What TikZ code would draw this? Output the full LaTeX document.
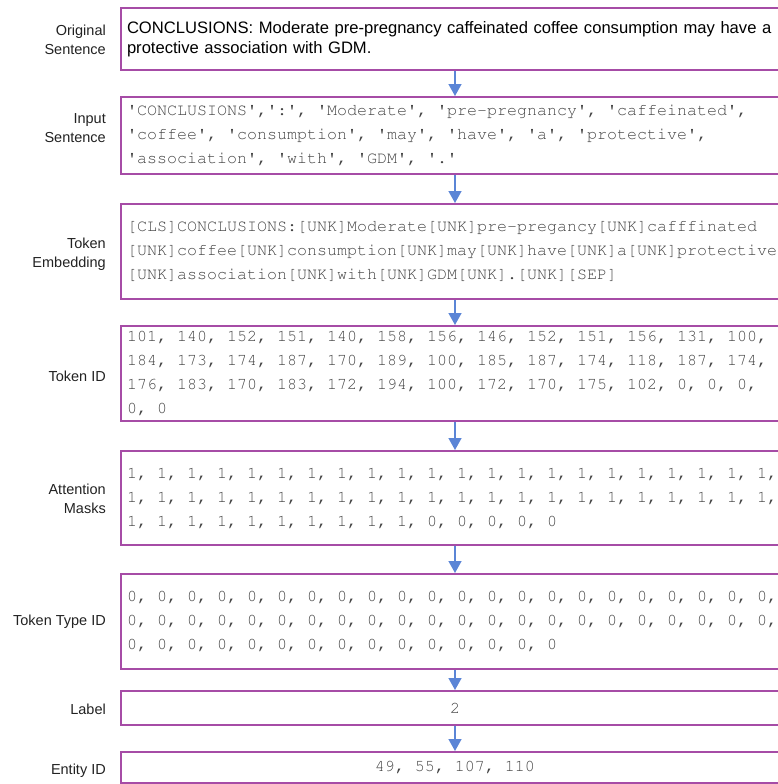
\documentclass[tikz,border=0pt]{standalone}
\usepackage{fontspec}
\setmainfont{Liberation Sans}
\usetikzlibrary{arrows.meta}

\definecolor{boxpurple}{RGB}{166,76,166}
\definecolor{flowblue}{RGB}{91,133,214}
\definecolor{codegrey}{RGB}{68,68,68}
\definecolor{labelgrey}{RGB}{34,34,34}

\newcommand\courierfont{\fontencoding{T1}\fontfamily{pcr}\selectfont}
\newcommand\qt{\textquotesingle}

\begin{document}
\begin{tikzpicture}[x=1pt,y=-1pt,
    field/.style={draw=boxpurple,line width=2pt,minimum width=668pt,inner xsep=6pt,inner ysep=0pt,text width=656pt,align=flush left},
    codetext/.style={font=\courierfont\fontsize{16.67}{24}\selectfont,text=codegrey},
    rowname/.style={anchor=east,inner sep=0pt,align=right,text=labelgrey,font=\fontsize{14.5}{19.5}\selectfont},
    flow/.style={draw=flowblue,line width=1.5pt,-{Triangle[width=13pt,length=12pt]}}]
    \useasboundingbox (0,0) rectangle (778,784);
    \clip (0,0) rectangle (778,784);

    % Beschriftung links
    \foreach \n/\y/\txt in {1/40/{Original\\Sentence},2/128/{Input\\Sentence},3/254/{Token\\Embedding},4/376/{Token ID},
                            5/499/{Attention\\Masks},6/622/{Token Type ID},7/709/{Label},8/771/{Entity ID}} {
        \node[rowname] (row\n) at (106,\y) {\txt};
    }

    % Kaesten
    \node[field,align=left,minimum height=62pt,font=\fontsize{16.6}{20.5}\selectfont] (orig) at (455,39)
        {\mbox{CONCLUSIONS: Moderate pre-pregnancy caffeinated coffee consumption may have a}\\
         \mbox{protective association with GDM.}};
    \node[field,codetext,minimum height=77pt] (input) at (455,135.5)
        {\mbox{\qt{}CONCLUSIONS\qt{},\qt{}:\qt{}, \qt{}Moderate\qt{}, \qt{}pre-pregnancy\qt{}, \qt{}caffeinated\qt{},}\\
         \mbox{\qt{}coffee\qt{}, \qt{}consumption\qt{}, \qt{}may\qt{}, \qt{}have\qt{}, \qt{}a\qt{}, \qt{}protective\qt{},}\\
         \mbox{\qt{}association\qt{}, \qt{}with\qt{}, \qt{}GDM\qt{}, \qt{}.\qt{}}};
    \node[field,codetext,minimum height=95pt] (embed) at (455,251.5)
        {\mbox{[CLS]CONCLUSIONS:[UNK]Moderate[UNK]pre-pregancy[UNK]cafffinated}\\
         \mbox{[UNK]coffee[UNK]consumption[UNK]may[UNK]have[UNK]a[UNK]protective}\\
         \mbox{[UNK]association[UNK]with[UNK]GDM[UNK].[UNK][SEP]}};
    \node[field,codetext,minimum height=95pt] (tokid) at (455,373.5)
        {\mbox{101, 140, 152, 151, 140, 158, 156, 146, 152, 151, 156, 131, 100,}\\
         \mbox{184, 173, 174, 187, 170, 189, 100, 185, 187, 174, 118, 187, 174,}\\
         \mbox{176, 183, 170, 183, 172, 194, 100, 172, 170, 175, 102, 0, 0, 0,}\\
         \mbox{0, 0}};
    \node[field,codetext,minimum height=94pt] (mask) at (455,498)
        {\mbox{1, 1, 1, 1, 1, 1, 1, 1, 1, 1, 1, 1, 1, 1, 1, 1, 1, 1, 1, 1, 1, 1, 1, 1,}\\
         \mbox{1, 1, 1, 1, 1, 1, 1, 1, 1, 1, 1, 1, 1, 1, 1, 1, 1, 1, 1, 1, 1, 1, 1, 1,}\\
         \mbox{1, 1, 1, 1, 1, 1, 1, 1, 1, 1, 0, 0, 0, 0, 0}};
    \node[field,codetext,minimum height=95pt] (ttype) at (455,621.5)
        {\mbox{0, 0, 0, 0, 0, 0, 0, 0, 0, 0, 0, 0, 0, 0, 0, 0, 0, 0, 0, 0, 0, 0, 0, 0,}\\
         \mbox{0, 0, 0, 0, 0, 0, 0, 0, 0, 0, 0, 0, 0, 0, 0, 0, 0, 0, 0, 0, 0, 0, 0, 0,}\\
         \mbox{0, 0, 0, 0, 0, 0, 0, 0, 0, 0, 0, 0, 0, 0, 0}};
    \node[field,codetext,minimum height=34pt,align=flush center] (label) at (455,708) {2};
    \node[field,codetext,minimum height=31pt,align=flush center] (entity) at (455,767.5) {\mbox{49, 55, 107, 110}};

    % Pfeile
    \foreach \a/\b in {orig/input,input/embed,embed/tokid,tokid/mask,mask/ttype,ttype/label,label/entity} {
        \draw[flow] (\a.south) -- (\b.north);
    }
\end{tikzpicture}
\end{document}
